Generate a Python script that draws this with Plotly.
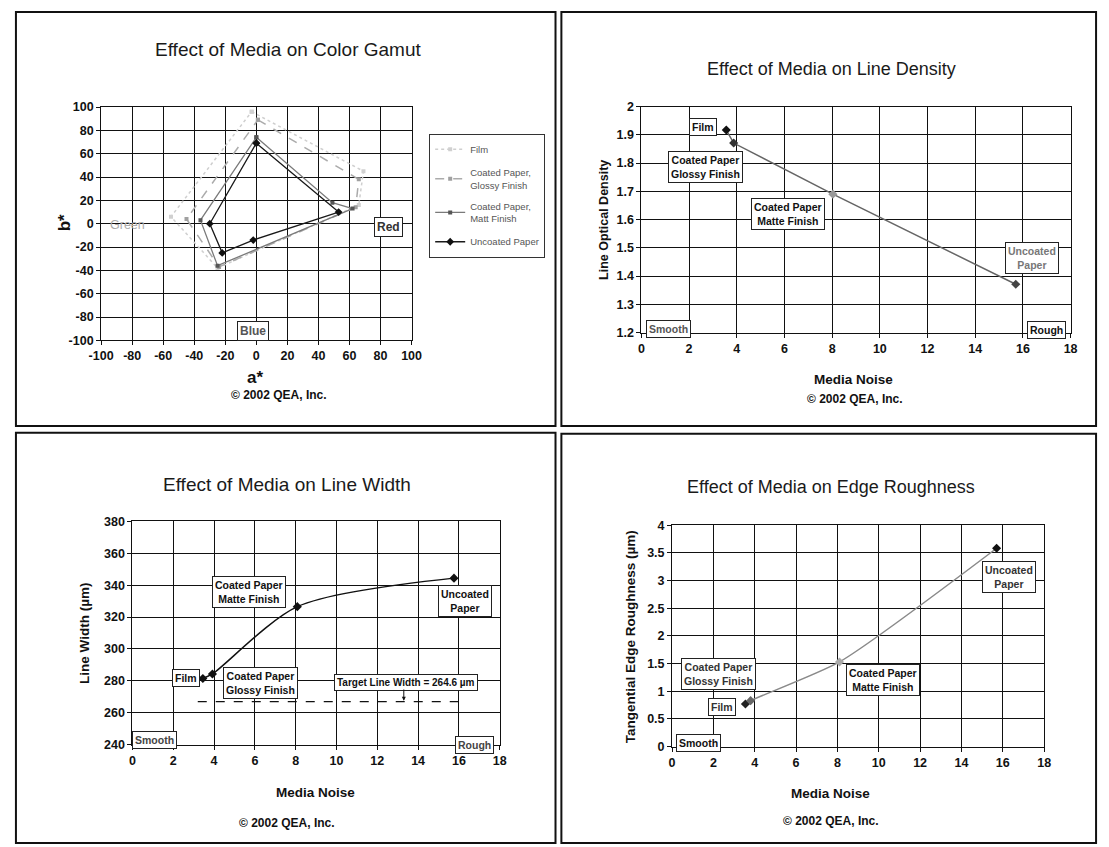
import plotly.graph_objects as go

W, H = 1109, 847
FONT = "Liberation Sans, Arial, sans-serif"

# ---------------- Data ----------------
# Panel 1: colour gamut (a*, b*) polygons
film_a = [-3, 69, 66, -25, -55, -3]
film_b = [96, 45, 16, -38, 6, 96]
glossy_a = [1, 66, 64, -24, -45, 1]
glossy_b = [89, 38, 14, -37, 4, 89]
matte_a = [0, 49, 62, -25, -36, 0]
matte_b = [74, 18, 13, -36, 3, 74]
uncoated_a = [0, 53, -2, -22, -30, 0]
uncoated_b = [69, 10, -14, -25, 0, 69]
gamut_ticks = [-100, -80, -60, -40, -20, 0, 20, 40, 60, 80, 100]
gamut_ticktext = ["-100", "-80", "-60", "-40", "-20", "0", "20", "40", "60", "80", "100"]

# Media noise (x) for the four media: Film, Glossy, Matte, Uncoated
density_noise = [3.56, 3.87, 8.03, 15.7]
density_values = [1.917, 1.871, 1.69, 1.371]

width_noise = [3.45, 3.92, 8.08, 15.76]
width_values = [281.5, 284.3, 326.5, 344.4]
target_x = [3.2, 16.2]
target_width = [267, 267]

rough_noise = [3.55, 3.8, 8.1, 15.7]
rough_values = [0.77, 0.83, 1.53, 3.585]


def px(x):
    return x / W


def py(y):
    return 1 - y / H


fig = go.Figure()

# ---------- Panel 1 traces ----------
fig.add_trace(go.Scatter(x=film_a, y=film_b, mode="lines+markers", name="Film",
                         line=dict(color="#cfcfcf", width=1.5, dash="dot"),
                         marker=dict(symbol="square", size=4, color="#d0d0d0"),
                         xaxis="x", yaxis="y", legendgroup="a"))
fig.add_trace(go.Scatter(x=glossy_a, y=glossy_b, mode="lines+markers",
                         name="Coated Paper,<br>Glossy Finish",
                         line=dict(color="#ababab", width=1.5, dash="dash"),
                         marker=dict(symbol="square", size=4, color="#a0a0a0"),
                         xaxis="x", yaxis="y", legendgroup="b"))
fig.add_trace(go.Scatter(x=matte_a, y=matte_b, mode="lines+markers",
                         name="Coated Paper,<br>Matt Finish",
                         line=dict(color="#7a7a7a", width=1.3),
                         marker=dict(symbol="square", size=4, color="#555555"),
                         xaxis="x", yaxis="y", legendgroup="c"))
fig.add_trace(go.Scatter(x=uncoated_a, y=uncoated_b, mode="lines+markers",
                         name="Uncoated Paper",
                         line=dict(color="#1a1a1a", width=1.3),
                         marker=dict(symbol="diamond", size=6, color="#111111"),
                         xaxis="x", yaxis="y", legendgroup="d"))

# ---------- Panel 2 ----------
fig.add_trace(go.Scatter(x=density_noise, y=density_values, mode="lines",
                         line=dict(color="#666666", width=1.5),
                         xaxis="x2", yaxis="y2", showlegend=False))
fig.add_trace(go.Scatter(x=density_noise, y=density_values, mode="markers",
                         marker=dict(symbol="diamond", size=7,
                                     color=["#111", "#333", "#999", "#444"]),
                         xaxis="x2", yaxis="y2", showlegend=False))

# ---------- Panel 3 ----------
fig.add_trace(go.Scatter(x=width_noise, y=width_values, mode="lines+markers",
                         line=dict(color="#111111", width=1.5, shape="spline", smoothing=0.8),
                         marker=dict(symbol="diamond", size=7, color="#111111"),
                         xaxis="x3", yaxis="y3", showlegend=False))
fig.add_trace(go.Scatter(x=target_x, y=target_width, mode="lines",
                         line=dict(color="#111111", width=1.2, dash="dash"),
                         xaxis="x3", yaxis="y3", showlegend=False))

# ---------- Panel 4 ----------
fig.add_trace(go.Scatter(x=rough_noise, y=rough_values, mode="lines",
                         line=dict(color="#8a8a8a", width=1.5, shape="spline", smoothing=0.6),
                         xaxis="x4", yaxis="y4", showlegend=False))
fig.add_trace(go.Scatter(x=rough_noise, y=rough_values, mode="markers",
                         marker=dict(symbol="diamond", size=7,
                                     color=["#222", "#666", "#aaa", "#111"]),
                         xaxis="x4", yaxis="y4", showlegend=False))

tickfont = dict(family=FONT, size=12.5, color="#111", weight="bold")


def xax(domain, rng, dtick, anchor, **kw):
    d = dict(domain=domain, range=rng, dtick=dtick, anchor=anchor,
             showgrid=True, gridcolor="#111", gridwidth=1,
             showline=True, linecolor="#111", linewidth=1, mirror=True,
             ticks="outside", ticklen=4, tickcolor="#111",
             zeroline=False, tickfont=tickfont, fixedrange=True)
    d.update(kw)
    return d


layout_axes = dict(
    xaxis=xax([px(90), px(407)], [-100, 100], 20, "y",
              tickmode="array", tickvals=gamut_ticks, ticktext=gamut_ticktext),
    yaxis=xax([py(339), py(101.7)], [-100, 100], 20, "x",
              tickmode="array", tickvals=gamut_ticks, ticktext=gamut_ticktext),
    xaxis2=xax([px(641.7), px(1080)], [0, 18], 2, "y2"),
    yaxis2=xax([py(331), py(101.3)], [1.2, 2.0], 0.1, "x2"),
    xaxis3=xax([px(122), px(497)], [0, 18], 2, "y3"),
    yaxis3=xax([py(750), py(523)], [240, 380], 20, "x3"),
    xaxis4=xax([px(673), px(1053)], [0, 18], 2, "y4"),
    yaxis4=xax([py(752), py(527)], [0, 4], 0.5, "x4"),
)

ann = []


def text(x, y, t, size=11, bold=True, color="#111", angle=0, family=FONT):
    ann.append(dict(xref="paper", yref="paper", x=px(x), y=py(y), text=t,
                    showarrow=False, textangle=angle, xanchor="center", yanchor="middle",
                    font=dict(family=family, size=size, color=color,
                              weight="bold" if bold else "normal")))


def box(xr, yr, x, y, t, color="#111", size=10.5):
    ann.append(dict(xref=xr, yref=yr, x=x, y=y, text=t, showarrow=False,
                    xanchor="center", yanchor="middle", align="center",
                    bgcolor="white", bordercolor="#222", borderwidth=1, borderpad=2,
                    font=dict(family=FONT, size=size, color=color, weight="bold")))


# Titles
text(281, 43, "Effect of Media on Color Gamut", size=19, bold=False, color="#1a1a1a")
text(836, 63, "Effect of Media on Line Density", size=18, bold=False, color="#1a1a1a")
text(280, 486, "Effect of Media on Line Width", size=19, bold=False, color="#1a1a1a")
text(835, 488, "Effect of Media on Edge Roughness", size=18, bold=False, color="#1a1a1a")

# Axis titles
text(247, 377, "a*", size=17)
text(52, 219, "b*", size=17, angle=-90)
text(858, 379, "Media Noise", size=13.5)
text(604, 216, "Line Optical Density", size=12.5, angle=-90)
text(309, 799, "Media Noise", size=13.5)
text(73, 637, "Line Width (µm)", size=13.5, angle=-90)
text(835, 800, "Media Noise", size=13.5)
text(630, 640, "Tangential Edge Roughness (µm)", size=13.5, angle=-90)

# Copyrights
text(272, 395, "© 2002 QEA, Inc.", size=12)
text(860, 399, "© 2002 QEA, Inc.", size=12)
text(280, 830, "© 2002 QEA, Inc.", size=12)
text(835, 828, "© 2002 QEA, Inc.", size=12)

# Panel 1 labels
ann.append(dict(xref="x", yref="y", x=-83, y=-1, text="Green", showarrow=False,
                font=dict(family=FONT, size=12.5, color="#aaaaaa")))
box("x", "y", 85, -3, "Red", size=12, color="#333")
box("x", "y", -2, -92, "Blue", size=12, color="#555")

# Panel 2 labels
box("x2", "y2", 2.6, 1.928, "Film")
box("x2", "y2", 2.67, 1.787, "Coated Paper<br>Glossy Finish")
box("x2", "y2", 6.16, 1.621, "Coated Paper<br>Matte Finish")
box("x2", "y2", 16.4, 1.464, "Uncoated<br>Paper", color="#777")
box("x2", "y2", 1.13, 1.213, "Smooth", color="#555")
box("x2", "y2", 17.0, 1.21, "Rough")

# Panel 3 labels
box("x3", "y3", 2.6, 282, "Film")
box("x3", "y3", 6.3, 278.5, "Coated Paper<br>Glossy Finish")
box("x3", "y3", 5.7, 336, "Coated Paper<br>Matte Finish")
box("x3", "y3", 16.3, 330, "Uncoated<br>Paper")
box("x3", "y3", 13.4, 279, "Target Line Width = 264.6 µm", size=10)
box("x3", "y3", 1.1, 243, "Smooth", color="#444")
box("x3", "y3", 16.75, 240, "Rough", color="#444")
ann.append(dict(xref="x3", yref="y3", x=13.3, y=267.5, ax=13.3, ay=275.5,
                axref="x3", ayref="y3", text="", showarrow=True,
                arrowhead=2, arrowsize=0.8, arrowwidth=1, arrowcolor="#111"))

# Panel 4 labels
box("x4", "y4", 16.3, 3.06, "Uncoated<br>Paper", color="#333")
box("x4", "y4", 2.25, 1.305, "Coated Paper<br>Glossy Finish", color="#333")
box("x4", "y4", 10.2, 1.2, "Coated Paper<br>Matte Finish")
box("x4", "y4", 2.4, 0.71, "Film", color="#333")
box("x4", "y4", 1.26, 0.07, "Smooth")
box("x4", "y4", 16.7, -0.01, "Rough", color="#333")

# Panel borders
shapes = []
for (x0, x1, y0, y1) in [(3, 554, 5, 426), (560, 1106, 5, 426),
                         (3, 554, 433, 850), (560, 1106, 434, 850)]:
    shapes.append(dict(type="rect", xref="paper", yref="paper",
                       x0=px(x0), x1=px(x1), y0=py(y1), y1=py(y0),
                       line=dict(color="#111", width=2), fillcolor="rgba(0,0,0,0)"))

fig.update_layout(
    width=W, height=H, autosize=False,
    margin=dict(l=0, r=0, t=0, b=0),
    paper_bgcolor="white", plot_bgcolor="white",
    font=dict(family=FONT, color="#111"),
    annotations=ann, shapes=shapes,
    showlegend=True,
    legend=dict(x=px(425), y=py(129), xanchor="left", yanchor="top",
                bordercolor="#333", borderwidth=1, bgcolor="white",
                font=dict(family=FONT, size=9.5, color="#555"),
                tracegroupgap=6, itemwidth=30),
    **layout_axes,
)

fig.write_html("out.html", config={"displayModeBar": False},
               post_script="document.body.style.margin='0';document.body.style.overflow='hidden';")
